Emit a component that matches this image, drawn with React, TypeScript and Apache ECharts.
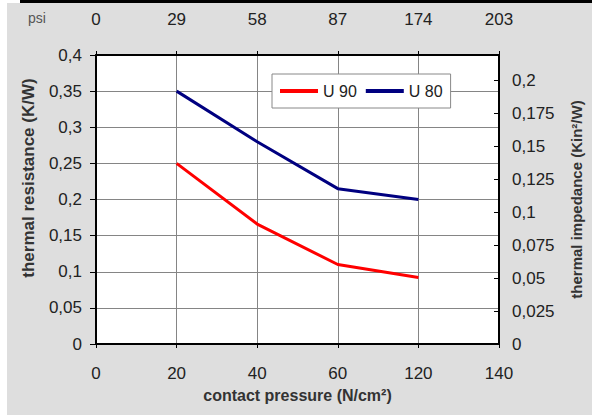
import React, { useEffect, useRef } from "react";
import * as echarts from "echarts";

const pressureNcm2 = ["0", "20", "40", "60", "120", "140"];
const pressurePsi = ["0", "29", "58", "87", "174", "203"];
const u90 = [null, 0.25, 0.166, 0.11, 0.092, null];
const u80 = [null, 0.35, 0.28, 0.215, 0.2, null];

const FONT = "'Liberation Sans', Arial, sans-serif";
const comma = (v: number) => String(+v.toFixed(4)).replace(".", ",");

export default function App() {
  const ref = useRef<HTMLDivElement>(null);
  useEffect(() => {
    if (!ref.current) return;
    const chart = echarts.init(ref.current, null, { renderer: "svg" });
    const axisLine = { show: true, onZero: false, lineStyle: { color: "#000", width: 2 } };
    const gridLine = { show: true, lineStyle: { color: "#858585", width: 1 } };
    const labelBase = { fontSize: 17, color: "#222", fontFamily: FONT };
    chart.setOption({
      animation: false,
      textStyle: { fontFamily: FONT },
      grid: {
        left: 96,
        right: 92,
        top: 55,
        bottom: 71,
        show: true,
        backgroundColor: "#fff",
        borderColor: "#000",
        borderWidth: 0,
      },
      legend: {
        left: 272,
        top: 74,
        orient: "horizontal",
        backgroundColor: "#fff",
        borderColor: "#888",
        borderWidth: 1,
        borderRadius: 0,
        padding: [9, 8],
        itemGap: 9,
        itemWidth: 38,
        itemHeight: 4,
        icon: "rect",
        textStyle: { fontFamily: FONT, fontSize: 16, color: "#222" },
        data: ["U 90", "U 80"],
      },
      graphic: [
        {
          type: "text",
          left: 28,
          top: 11,
          style: { text: "psi", fontFamily: FONT, fontSize: 14, fill: "#555" },
        },
        {
          type: "text",
          x: 28,
          y: 178,
          rotation: Math.PI / 2,
          style: {
            text: "thermal resistance (K/W)",
            fontFamily: FONT,
            fontSize: 17,
            fontWeight: "bold",
            fill: "#333",
            align: "center",
            verticalAlign: "middle",
          },
        },
      ],
      xAxis: [
        {
          type: "category",
          position: "bottom",
          data: pressureNcm2,
          boundaryGap: false,
          axisLine,
          axisTick: { show: true, length: 4, lineStyle: { color: "#000" } },
          splitLine: gridLine,
          axisLabel: { margin: 21, ...labelBase },
          name: "contact pressure (N/cm²)",
          nameLocation: "middle",
          nameGap: 43,
          nameTextStyle: { fontSize: 16, fontWeight: "bold", color: "#333", fontFamily: FONT },
        },
        {
          type: "category",
          position: "top",
          data: pressurePsi,
          boundaryGap: false,
          axisLine,
          axisTick: { show: true, length: 4, lineStyle: { color: "#000" } },
          splitLine: { show: false },
          axisLabel: { margin: 27, ...labelBase },
        },
      ],
      yAxis: [
        {
          type: "value",
          position: "left",
          min: 0,
          max: 0.4,
          interval: 0.05,
          axisLine,
          axisTick: { show: true, length: 6, lineStyle: { color: "#000" } },
          splitLine: gridLine,
          axisLabel: { margin: 14, ...labelBase, formatter: comma },
        },
        {
          type: "value",
          position: "right",
          min: 0,
          max: 0.219,
          interval: 0.025,
          axisLine,
          axisTick: { show: true, inside: true, length: 5, lineStyle: { color: "#000" } },
          splitLine: { show: false },
          axisLabel: { margin: 13, ...labelBase, showMaxLabel: false, formatter: comma },
          name: "thermal impedance (Kin²/W)",
          nameLocation: "middle",
          nameRotate: 90,
          nameGap: 70,
          nameTextStyle: { fontSize: 15, fontWeight: "bold", color: "#333", fontFamily: FONT },
        },
      ],
      series: [
        {
          name: "U 90",
          type: "line",
          xAxisIndex: 0,
          yAxisIndex: 0,
          data: u90,
          symbol: "none",
          color: "#ff0000",
          lineStyle: { color: "#ff0000", width: 3 },
        },
        {
          name: "U 80",
          type: "line",
          xAxisIndex: 0,
          yAxisIndex: 0,
          data: u80,
          symbol: "none",
          color: "#000080",
          lineStyle: { color: "#000080", width: 3 },
        },
      ],
    });
    return () => chart.dispose();
  }, []);

  return (
    <div style={{ position: "fixed", left: 0, top: 0, width: 592, height: 415, background: "#fff", overflow: "hidden" }}>
      <div style={{ position: "absolute", left: 7, top: 3, width: 585, height: 412, background: "#dedede" }} />
      <div style={{ position: "absolute", left: 20, top: 0, width: 572, height: 3, background: "#000" }} />
      <div ref={ref} style={{ position: "absolute", left: 0, top: 0, width: 592, height: 415 }} />
    </div>
  );
}
